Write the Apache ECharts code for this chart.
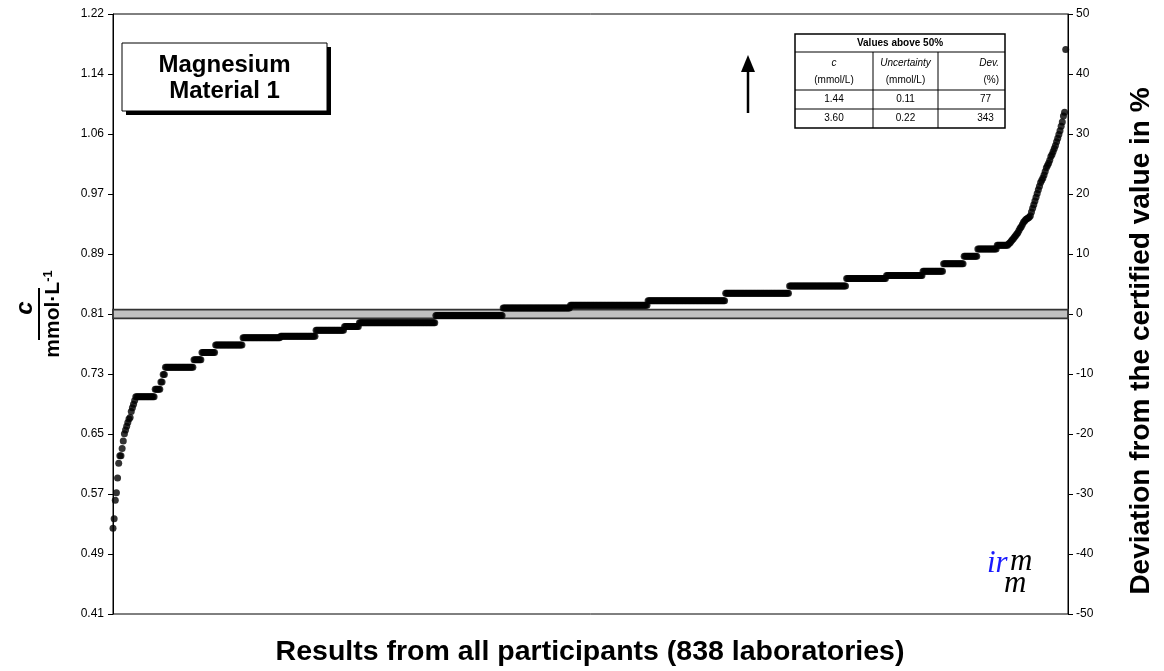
<!DOCTYPE html>
<html>
<head>
<meta charset="utf-8">
<script src="https://cdn.jsdelivr.net/npm/echarts@6/dist/echarts.min.js"></script>
<style>
  html, body { margin: 0; padding: 0; background: #fff; }
  #chart { width: 1164px; height: 671px; }
</style>
</head>
<body>
<div id="chart"></div>
<script>
// Certified value and its expanded uncertainty (mmol/L)
const CERTIFIED = 0.812;
const CERT_U = 0.006;

// Lowest results, one per laboratory (mmol/L)
const lowTail = [0.522, 0.535, 0.560, 0.570, 0.590, 0.610, 0.620, 0.620, 0.630, 0.640,
                 0.650, 0.655, 0.660, 0.665, 0.670, 0.672, 0.680, 0.685, 0.690, 0.695];

// Reported values shared by many laboratories, and how many reported each
const stepValues = [0.70, 0.71, 0.72, 0.73, 0.74, 0.75, 0.76, 0.77, 0.78, 0.782,
                    0.79, 0.795, 0.80, 0.81, 0.82, 0.824, 0.83, 0.84, 0.85, 0.86,
                    0.864, 0.87, 0.88, 0.89, 0.90, 0.905];
const stepCounts = [17, 5, 2, 2, 25, 7, 12, 24, 33, 31,
                    25, 13, 67, 59, 59, 68, 68, 56, 50, 35,
                    32, 18, 18, 12, 17, 10];

// Highest results still inside the +50 % range (mmol/L)
const highTail = [0.907, 0.908, 0.910, 0.912, 0.914, 0.916, 0.918, 0.920, 0.922, 0.925,
                  0.928, 0.930, 0.933, 0.936, 0.938, 0.940, 0.941, 0.942, 0.943, 0.945,
                  0.950, 0.955, 0.960, 0.965, 0.970, 0.975, 0.980, 0.985, 0.990, 0.993,
                  0.996, 1.000, 1.005, 1.010, 1.013, 1.016, 1.020, 1.025, 1.028, 1.032,
                  1.036, 1.040, 1.045, 1.050, 1.055, 1.060, 1.066, 1.072, 1.080, 1.085,
                  1.170];

// Results above +50 %: value, uncertainty, deviation
const aboveValues = [1.44, 3.60];
const aboveUnc = [0.11, 0.22];
const aboveDev = [77, 343];

// Axis ticks: deviation in %, with matching concentrations
const devTicks = [-50, -40, -30, -20, -10, 0, 10, 20, 30, 40, 50];

// ---- build the ranked result list ----
const results = [];
lowTail.forEach(v => results.push(v));
stepValues.forEach((v, k) => { for (let j = 0; j < stepCounts[k]; j++) results.push(v); });
highTail.forEach(v => results.push(v));
aboveValues.forEach(v => results.push(v));
const nLabs = results.length;
const points = results.map((v, i) => [i + 1, v]);

const cMin = CERTIFIED * (1 + devTicks[0] / 100);
const cMax = CERTIFIED * (1 + devTicks[devTicks.length - 1] / 100);
const cStep = CERTIFIED * (devTicks[1] - devTicks[0]) / 100;

const FONT = '"Liberation Sans", Arial, sans-serif';
const chart = echarts.init(document.getElementById('chart'), null, { renderer: 'canvas' });

// table of results above the +50 % limit
const tX = [795, 873, 938, 1005];
const tY = [34, 52, 90, 109, 128];
const tableEls = [];
tableEls.push({ type: 'rect', shape: { x: tX[0], y: tY[0], width: tX[3] - tX[0], height: tY[4] - tY[0] },
  style: { fill: '#fff', stroke: '#000', lineWidth: 1.5 } });
[tY[1], tY[2], tY[3]].forEach(y => tableEls.push({ type: 'line',
  shape: { x1: tX[0], y1: y, x2: tX[3], y2: y }, style: { stroke: '#000', lineWidth: 1 } }));
[tX[1], tX[2]].forEach(x => tableEls.push({ type: 'line',
  shape: { x1: x, y1: tY[1], x2: x, y2: tY[4] }, style: { stroke: '#000', lineWidth: 1 } }));
function cell(text, x, y, extra) {
  return { type: 'text', x: x, y: y,
    style: Object.assign({ text: text, font: '10px ' + FONT, fill: '#000', textAlign: 'center', textVerticalAlign: 'middle' }, extra || {}) };
}
tableEls.push(cell('Values above 50%', (tX[0] + tX[3]) / 2, (tY[0] + tY[1]) / 2, { font: 'bold 10px ' + FONT }));
tableEls.push(cell('c', (tX[0] + tX[1]) / 2, 63, { font: 'italic 10px ' + FONT }));
tableEls.push(cell('Uncertainty', (tX[1] + tX[2]) / 2, 63, { font: 'italic 10px ' + FONT }));
tableEls.push(cell('Dev.', tX[3] - 6, 63, { font: 'italic 10px ' + FONT, textAlign: 'right' }));
tableEls.push(cell('(mmol/L)', (tX[0] + tX[1]) / 2, 80));
tableEls.push(cell('(mmol/L)', (tX[1] + tX[2]) / 2, 80));
tableEls.push(cell('(%)', tX[3] - 6, 80, { textAlign: 'right' }));
aboveValues.forEach((v, k) => {
  const yc = (tY[2 + k] + tY[3 + k]) / 2;
  tableEls.push(cell(v.toFixed(2), (tX[0] + tX[1]) / 2, yc));
  tableEls.push(cell(aboveUnc[k].toFixed(2), (tX[1] + tX[2]) / 2, yc));
  tableEls.push(cell(String(aboveDev[k]), (tX[2] + tX[3]) / 2 + 14, yc));
});

const option = {
  backgroundColor: '#fff',
  animation: false,
  grid: { left: 113, top: 14, width: 955, height: 600, show: true, borderColor: '#000', borderWidth: 1, backgroundColor: 'transparent' },
  xAxis: {
    type: 'value', min: 1, max: nLabs,
    axisLine: { show: true, lineStyle: { color: '#000', width: 1 } },
    axisTick: { show: false }, axisLabel: { show: false }, splitLine: { show: false }
  },
  yAxis: [
    {
      type: 'value', min: cMin, max: cMax, interval: cStep, position: 'left',
      axisLine: { show: true, lineStyle: { color: '#000', width: 1 } },
      axisTick: { show: true, inside: false, length: 5, lineStyle: { color: '#000' } },
      axisLabel: { color: '#000', fontSize: 12, fontFamily: FONT, margin: 9,
        formatter: v => v.toFixed(2) },
      splitLine: { show: false }
    },
    {
      type: 'value', min: devTicks[0], max: devTicks[devTicks.length - 1], interval: devTicks[1] - devTicks[0],
      position: 'right',
      axisLine: { show: true, lineStyle: { color: '#000', width: 1 } },
      axisTick: { show: true, inside: false, length: 5, lineStyle: { color: '#000' } },
      axisLabel: { color: '#000', fontSize: 12, fontFamily: FONT, margin: 8 },
      splitLine: { show: false }
    }
  ],
  series: [{
    type: 'scatter',
    yAxisIndex: 0,
    data: points,
    symbol: 'circle',
    symbolSize: 7,
    clip: true,
    itemStyle: { color: '#000' },
    markArea: {
      silent: true,
      itemStyle: { color: '#c0c0c0', borderColor: '#333', borderWidth: 1.8 },
      data: [[{ yAxis: CERTIFIED - CERT_U }, { yAxis: CERTIFIED + CERT_U }]]
    },
    z: 3
  }],
  graphic: [
    // sample box with drop shadow
    { type: 'rect', shape: { x: 126, y: 47, width: 205, height: 68 }, style: { fill: '#000' }, z: 10 },
    { type: 'rect', shape: { x: 122, y: 43, width: 205, height: 68 }, style: { fill: '#fff', stroke: '#000', lineWidth: 1 }, z: 11 },
    { type: 'text', x: 224.5, y: 78, z: 12,
      style: { text: 'Magnesium\nMaterial 1', font: 'bold 24px ' + FONT, fill: '#000',
        textAlign: 'center', textVerticalAlign: 'middle', lineHeight: 26 } },
    // arrow pointing to results above range
    { type: 'line', shape: { x1: 748, y1: 113, x2: 748, y2: 68 }, style: { stroke: '#000', lineWidth: 2.5 }, z: 10 },
    { type: 'polygon', shape: { points: [[741, 72], [755, 72], [748, 55]] }, style: { fill: '#000' }, z: 10 },
    // table of results above 50 %
    { type: 'group', z: 10, children: tableEls },
    // left axis title: c / (mmol·L-1)
    { type: 'group', x: 39, y: 314, rotation: Math.PI / 2, z: 10, children: [
      { type: 'text', x: 6, y: -2, style: { text: 'c', font: 'italic bold 24px ' + FONT, fill: '#000', textAlign: 'center', textVerticalAlign: 'bottom' } },
      { type: 'line', shape: { x1: -26, y1: 0, x2: 26, y2: 0 }, style: { stroke: '#000', lineWidth: 2 } },
      { type: 'text', x: 0, y: 3, style: {
          text: '{b|mmol·L}{s|-1}', textAlign: 'center', textVerticalAlign: 'top',
          rich: { b: { font: 'bold 21px ' + FONT, fill: '#000' },
                  s: { font: 'bold 13px ' + FONT, fill: '#000', verticalAlign: 'top', padding: [0, 0, 10, 0] } } } }
    ] },
    // right axis title
    { type: 'text', x: 1141, y: 341, rotation: Math.PI / 2, z: 10,
      style: { text: 'Deviation from the certified value in %', font: 'bold 28px ' + FONT, fill: '#000',
        textAlign: 'center', textVerticalAlign: 'middle' } },
    // bottom axis title
    { type: 'text', x: 590, y: 652, z: 10,
      style: { text: 'Results from all participants (' + nLabs + ' laboratories)', font: 'bold 28.5px ' + FONT, fill: '#000',
        textAlign: 'center', textVerticalAlign: 'middle' } },
    // institute mark
    { type: 'text', x: 987, y: 564, z: 10, style: { text: 'ir', font: 'italic 31px "Liberation Serif", serif', fill: '#1a1aff', textVerticalAlign: 'middle' } },
    { type: 'text', x: 1010, y: 562, z: 10, style: { text: 'm', font: 'italic 31px "Liberation Serif", serif', fill: '#000', textVerticalAlign: 'middle' } },
    { type: 'text', x: 1004, y: 584, z: 10, style: { text: 'm', font: 'italic 31px "Liberation Serif", serif', fill: '#000', textVerticalAlign: 'middle' } }
  ]
};
chart.setOption(option);
</script>
</body>
</html>
